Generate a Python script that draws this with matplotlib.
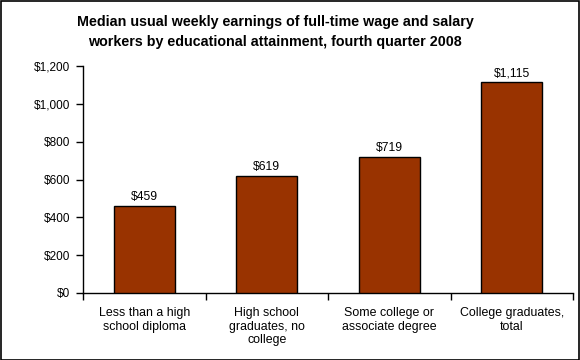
import matplotlib
matplotlib.use("Agg")
import matplotlib.pyplot as plt
from matplotlib.ticker import FuncFormatter, FixedLocator

categories = ["Less than a high\nschool diploma", "High school\ngraduates, no\ncollege",
              "Some college or\nassociate degree", "College graduates,\ntotal"]
values = [459, 619, 719, 1115]
value_labels = ["$459", "$619", "$719", "$1,115"]
title = "Median usual weekly earnings of full-time wage and salary\nworkers by educational attainment, fourth quarter 2008"

plt.rcParams['font.family'] = ['Liberation Sans', 'DejaVu Sans']

fig = plt.figure(figsize=(5.8, 3.6), dpi=100)
fig.patch.set_facecolor('white')
W, H = 580, 360
ax = fig.add_axes([83 / W, 1 - 293 / H, (573 - 83) / W, (293 - 66) / H])

x = list(range(len(values)))
ax.bar(x, values, width=0.5, color='#993300', edgecolor='black', linewidth=1, zorder=3)
for xi, v, lab in zip(x, values, value_labels):
    ax.text(xi, v + 15, lab, ha='center', va='bottom', fontsize=8.7)

ax.set_xlim(-0.5, len(values) - 0.5)
ax.set_ylim(0, 1200)
ax.set_yticks(range(0, 1201, 200))
ax.yaxis.set_major_formatter(FuncFormatter(lambda v, p: "${:,.0f}".format(v)))
ax.tick_params(axis='y', direction='out', length=5, labelsize=8.5, pad=4, width=1)

ax.xaxis.set_major_locator(FixedLocator([i + 0.5 for i in range(-1, len(values))]))
ax.xaxis.set_major_formatter(FuncFormatter(lambda v, p: ""))
ax.xaxis.set_minor_locator(FixedLocator(x))
ax.set_xticklabels(categories, minor=True)
ax.tick_params(axis='x', which='major', direction='out', length=5, width=1)
ax.tick_params(axis='x', which='minor', length=0, labelsize=8.9, pad=10)

for s in ['top', 'right']:
    ax.spines[s].set_visible(False)
for s in ['left', 'bottom']:
    ax.spines[s].set_linewidth(1)

fig.text(275 / W, 1 - 32 / H, title, ha='center', va='center',
         fontsize=10.3, fontweight='bold', linespacing=1.55)

border = plt.Rectangle((0.5 / W, 0.5 / H), 1 - 1.5 / W, 1 - 1.5 / H, transform=fig.transFigure,
                       fill=False, edgecolor='black', linewidth=1.2)
fig.patches.append(border)

fig.savefig("out.png", dpi=100)
